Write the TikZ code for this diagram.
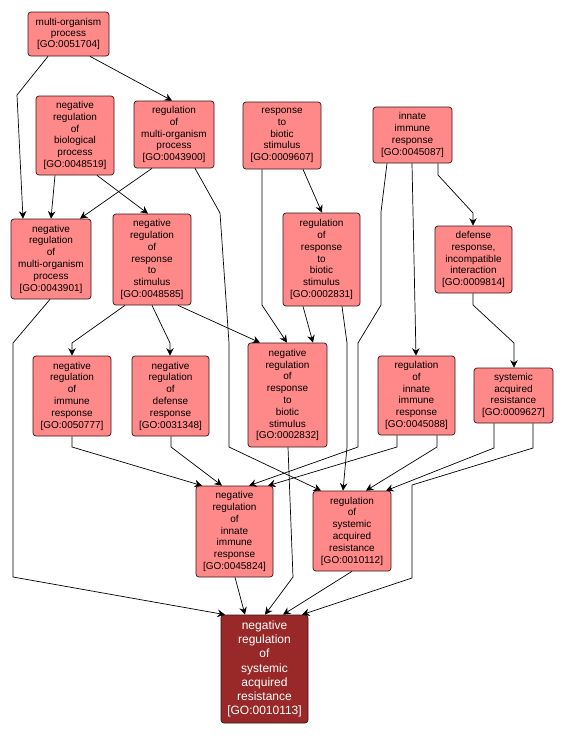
\documentclass[tikz,border=0pt]{standalone}
\usepackage{fontspec}
\setmainfont{Liberation Sans}
\usetikzlibrary{arrows.meta}
\definecolor{nodefill}{RGB}{255,137,137}
\definecolor{targetfill}{RGB}{153,41,41}
\definecolor{nodeline}{RGB}{60,20,20}
\newcommand\goid[1]{[GO:#1]}
\begin{document}
\begin{tikzpicture}[x=1pt,y=-1pt,
  gobox/.style={draw=nodeline, line width=0.7pt, rounded corners=3pt, fill=nodefill,
    inner sep=0pt, align=center, font=\fontsize{10}{11.8}\selectfont},
  target/.style={gobox, fill=targetfill, text=white, font=\fontsize{12}{14.2}\selectfont},
  edge/.style={draw=black, line width=0.7pt, -{Stealth[length=7.5pt,width=7.5pt,inset=2.5pt]}}]
\useasboundingbox[fill=white] (0,0) rectangle (563,737);

% nodes
\node[gobox, minimum width=81pt, minimum height=44pt, font=\fontsize{10}{11.2}\selectfont] (n51704) at (68.5,34) {multi-organism\\process\\\goid{0051704}};
\node[gobox, minimum width=78pt, minimum height=79pt] (n48519) at (75,135.5) {negative\\regulation\\of\\biological\\process\\\goid{0048519}};
\node[gobox, minimum width=80pt, minimum height=67pt] (n43900) at (174,134.5) {regulation\\of\\multi-organism\\process\\\goid{0043900}};
\node[gobox, minimum width=78pt, minimum height=67pt] (n9607) at (282,135.5) {response\\to\\biotic\\stimulus\\\goid{0009607}};
\node[gobox, minimum width=79pt, minimum height=56pt] (n45087) at (412.5,135) {innate\\immune\\response\\\goid{0045087}};
\node[gobox, minimum width=77pt, minimum height=93pt] (n2831) at (321.5,259.5) {regulation\\of\\response\\to\\biotic\\stimulus\\\goid{0002831}};
\node[gobox, minimum width=77pt, minimum height=67pt] (n9814) at (473.5,259.5) {defense\\response,\\incompatible\\interaction\\\goid{0009814}};
\node[gobox, minimum width=80pt, minimum height=80pt] (n43901) at (51,259) {negative\\regulation\\of\\multi-organism\\process\\\goid{0043901}};
\node[gobox, minimum width=78pt, minimum height=91pt] (n48585) at (152,259.5) {negative\\regulation\\of\\response\\to\\stimulus\\\goid{0048585}};
\node[gobox, minimum width=78pt, minimum height=80pt] (n50777) at (72,396) {negative\\regulation\\of\\immune\\response\\\goid{0050777}};
\node[gobox, minimum width=77pt, minimum height=80pt] (n31348) at (170.5,396) {negative\\regulation\\of\\defense\\response\\\goid{0031348}};
\node[gobox, minimum width=79pt, minimum height=104pt] (n2832) at (287.5,395) {negative\\regulation\\of\\response\\to\\biotic\\stimulus\\\goid{0002832}};
\node[gobox, minimum width=77pt, minimum height=79pt] (n45088) at (416.5,395.5) {regulation\\of\\innate\\immune\\response\\\goid{0045088}};
\node[gobox, minimum width=79pt, minimum height=55pt] (n9627) at (513.5,395.5) {systemic\\acquired\\resistance\\\goid{0009627}};
\node[gobox, minimum width=77pt, minimum height=91pt] (n45824) at (234.5,531.5) {negative\\regulation\\of\\innate\\immune\\response\\\goid{0045824}};
\node[gobox, minimum width=78pt, minimum height=80pt] (n10112) at (352,531) {regulation\\of\\systemic\\acquired\\resistance\\\goid{0010112}};
\node[target, minimum width=87pt, minimum height=108pt] (n10113) at (264.5,669) {negative\\regulation\\of\\systemic\\acquired\\resistance\\\goid{0010113}};

% edges
\draw[edge] (n51704.south -| 90,0) -- (n43900.north -| 172,0);
\draw[edge] (n51704.south -| 48,0) -- (17,95) -- (n43901.north -| 23,0);
\draw[edge] (n48519.south -| 55,0) -- (n43901.north -| 51,0);
\draw[edge] (n43900.south -| 152,0) -- (n43901.north -| 80,0);
\draw[edge] (n48519.south -| 97,0) -- (n48585.north -| 148,0);
\draw[edge] (n43900.south -| 195,0) -- (220,213) -- (229,343) -- (229,447) -- (n10112.north -| 321,0);
\draw[edge] (n9607.south -| 303,0) -- (n2831.north -| 322,0);
\draw[edge] (n9607.south -| 262,0) -- (262,305) -- (n2832.north -| 287,0);
\draw[edge] (n2831.south -| 303,0) -- (n2832.north -| 313,0);
\draw[edge] (n2831.south -| 342,0) -- (347,343) -- (347,447) -- (n10112.north -| 343,0);
\draw[edge] (n45087.south -| 387,0) -- (381,212) -- (381,305) -- (358,343) -- (358,447) -- (n45824.north -| 249,0);
\draw[edge] (n45087.south -| 412,0) -- (n45088.north -| 416,0);
\draw[edge] (n45087.south -| 438,0) -- (438,175) -- (473,213) -- (n9814.north -| 473,0);
\draw[edge] (n9814.south -| 473,0) -- (473,305) -- (514,343) -- (n9627.north -| 514,0);
\draw[edge] (n48585.south -| 178,0) -- (n2832.north -| 260,0);
\draw[edge] (n48585.south -| 125,0) -- (72,343) -- (n50777.north -| 72,0);
\draw[edge] (n48585.south -| 152,0) -- (170,343) -- (n31348.north -| 170,0);
\draw[edge] (n50777.south -| 72,0) -- (72,447) -- (n45824.north -| 202,0);
\draw[edge] (n31348.south -| 171,0) -- (171,447) -- (n45824.north -| 222,0);
\draw[edge] (n45088.south -| 397,0) -- (397,447) -- (n45824.north -| 268,0);
\draw[edge] (n45088.south -| 437,0) -- (437,447) -- (n10112.north -| 366,0);
\draw[edge] (n9627.south -| 494,0) -- (494,448) -- (n10112.north -| 386,0);
\draw[edge] (n9627.south -| 533,0) -- (533,448) -- (412,485) -- (412,578) -- (n10113.north -| 302,0);
\draw[edge] (n43901.south -| 50,0) -- (13,343) -- (13,577) -- (n10113.north -| 225,0);
\draw[edge] (n45824.south -| 235,0) -- (n10113.north -| 245,0);
\draw[edge] (n2832.south -| 288,0) -- (293,577) -- (n10113.north -| 265,0);
\draw[edge] (n10112.south -| 352,0) -- (n10113.north -| 283,0);
\end{tikzpicture}
\end{document}
